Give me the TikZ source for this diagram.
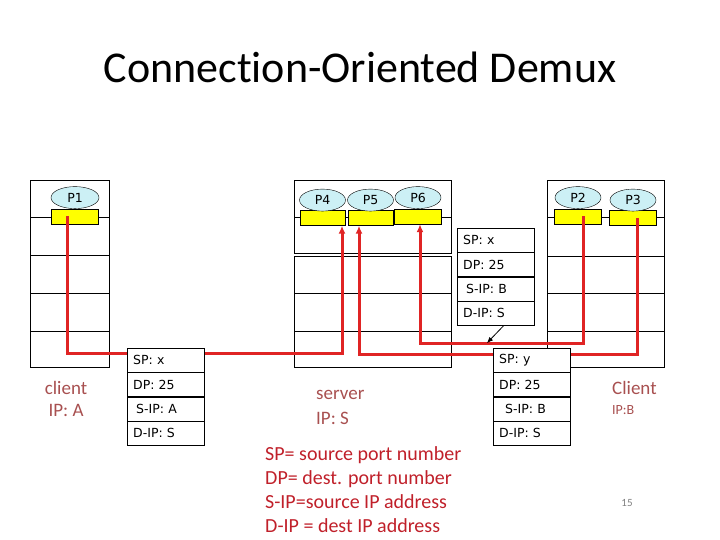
\documentclass[tikz,border=0pt]{standalone}
\usepackage{fontspec}
\setmainfont{Carlito}[Ligatures=NoCommon]
\newfontfamily\boxfont{DejaVu Sans}
\usetikzlibrary{positioning,arrows.meta,shapes.geometric}
\definecolor{wire1}{HTML}{E02424}
\definecolor{port1}{HTML}{FFFF00}
\definecolor{proc1}{HTML}{CCF0F5}
\definecolor{host1}{HTML}{A85050}
\definecolor{key1}{HTML}{C0202A}

\tikzset{
  host/.style={draw,anchor=north west,inner sep=0pt},
  port/.style={draw,fill=port1,minimum width=47pt,minimum height=15pt,inner sep=0pt},
  proc/.style={ellipse,draw,fill=proc1,minimum width=46pt,minimum height=22pt,inner sep=0pt,font=\boxfont\fontsize{12.5}{12.5}\selectfont},
  field/.style={draw,fill=white,minimum width=77pt,minimum height=24pt,inner ysep=0pt,inner xsep=6pt,text width=65pt,align=left,font=\boxfont\fontsize{12.5}{12.5}\selectfont},
  wire/.style={draw=wire1,line width=3pt},
  hostlabel/.style={text=host1,font=\fontsize{19}{22}\selectfont,align=left,inner sep=0pt}
}

\begin{document}
\begin{tikzpicture}[x=1pt,y=-1pt]
\useasboundingbox (0,0) rectangle (720,540);

\node[font=\fontsize{44}{44}\selectfont] (title) at (360,67) {Connection-Oriented Demux};

% hosts
\node[host,minimum width=79pt,minimum height=187pt] (hostA) at (30,180) {};
\node[host,minimum width=157pt,minimum height=73pt] (srvup) at (294,180) {};
\node[host,minimum width=157pt,minimum height=111pt] (srvlow) at (294,256) {};
\node[host,minimum width=117pt,minimum height=187pt] (hostB) at (547,180) {};
\foreach \y in {217,255,293,331}
  \draw (hostA.west |- 0,\y) -- (hostA.east |- 0,\y);
\foreach \y in {217,256,293,331}
  \draw (hostB.west |- 0,\y) -- (hostB.east |- 0,\y);
\draw (srvup.west |- 0,217) -- (srvup.east |- 0,217);
\foreach \y in {293,331}
  \draw (srvlow.west |- 0,\y) -- (srvlow.east |- 0,\y);

% sockets and processes
\node[port] (y1) at (75,216.5) {};
\node[port,minimum width=45pt] (y4) at (322.5,218) {};
\node[port,minimum width=45pt] (y5) at (370.5,218) {};
\node[port] (y6) at (418,216.5) {};
\node[port] (y2) at (578,216.5) {};
\node[port] (y3) at (633,218) {};
\node[proc,minimum width=48pt] (p1) [above=0pt of y1] {P1};
\node[proc] (p4) [above=-1pt of y4] {P4};
\node[proc] (p5) [above=-1pt of y5] {P5};
\node[proc] (p6) [above=0pt of y6] {P6};
\node[proc] (p2) [above=0pt of y2] {P2};
\node[proc] (p3) [above=-1pt of y3] {P3};

% wires
\coordinate (ta) at (342,353);
\coordinate (tb) at (420,343);
\coordinate (tc) at (359,354);
\draw[wire,-{Latex[length=8pt,width=7pt]}] ([xshift=-8pt]y1.center) |- (ta) -- (ta |- y4.south);
\draw[wire,-{Latex[length=8pt,width=7pt]}] ([xshift=5pt]y2.center) |- (tb) -- (tb |- y6.south);
\draw[wire,-{Latex[length=8pt,width=7pt]}] ([xshift=4pt]y3.center) |- (tc) -- (tc |- y5.south);

% segments
\node[field,anchor=north west] (ka1) at (127,348) {SP: x};
\node[field] (ka2) [below=0pt of ka1] {DP: 25};
\node[field] (ka3) [below=0pt of ka2] {\hspace{3pt}S-IP: A};
\node[field] (ka4) [below=0pt of ka3] {D-IP: S};

\node[field,anchor=north west] (kc1) at (493,348) {SP: y};
\node[field] (kc2) [below=0pt of kc1] {DP: 25};
\node[field] (kc3) [below=0pt of kc2] {\hspace{6pt}S-IP: B};
\node[field] (kc4) [below=0pt of kc3] {D-IP: S};

\node[field,anchor=north west] (kb1) at (457,228) {SP: x};
\node[field] (kb2) [below=0pt of kb1] {DP: 25};
\node[field] (kb3) [below=0pt of kb2] {\hspace{3pt}S-IP: B};
\node[field] (kb4) [below=0pt of kb3] {D-IP: S};
\coordinate (hit) at (487,343);
\draw[thick,-{Latex[length=6pt,width=5pt]}] ([xshift=8pt]kb4.south) -- (hit);

% host labels
\node[hostlabel,align=center] (la) at (66,399) {client\\IP: A};
\node[hostlabel,anchor=west] (ls1) at (316,395) {server};
\node[hostlabel,anchor=west] (ls2) at (316,418) {IP: S};
\node[hostlabel,anchor=west] (lb1) at (612,388) {Client};
\node[hostlabel,anchor=west,font=\fontsize{14}{14}\selectfont] (lb2) at (612,410) {IP:B};

% key
\node[anchor=west,text=key1,font=\fontsize{20}{24}\selectfont,align=left,inner sep=0pt] (key) at (265,490)
  {SP= source port number\\DP= dest. port number\\S-IP=source IP address\\D-IP = dest IP address};

\node[text=gray,font=\fontsize{11}{11}\selectfont] (pg) at (627,503) {15};
\end{tikzpicture}
\end{document}
